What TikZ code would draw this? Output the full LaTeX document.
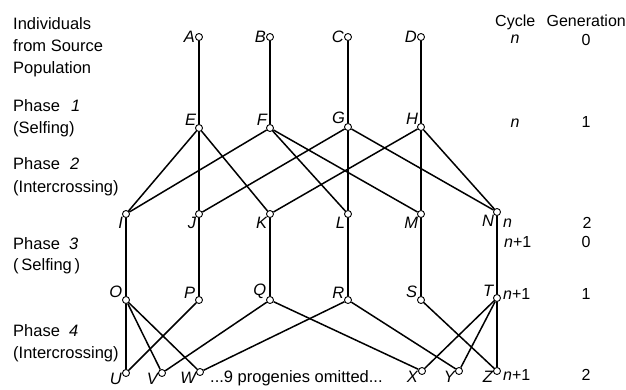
\documentclass[tikz,border=0pt]{standalone}
\usepackage{fontspec}
\setmainfont{Liberation Sans}
\begin{document}
\begin{tikzpicture}[x=1pt,y=-1pt,
  pt/.style={circle,draw,fill=white,inner sep=0pt,minimum size=7pt,line width=0.9pt},
  lbl/.style={font=\fontsize{16.5}{16.5}\selectfont\itshape,inner sep=0pt},
  dotA/.style={pt,label distance=0.5pt,label={[lbl]left:#1}},
  dotE/.style={pt,label distance=1.5pt,label={[lbl]north west:#1}},
  dotI/.style={pt,label distance=1.5pt,label={[lbl]south west:#1}},
  dotO/.style={pt,label distance=1pt,label={[lbl]155:#1}},
  dotU/.style={pt,label distance=2pt,label={[lbl]185:#1}},
  dotX/.style={pt,label distance=7pt,label={[lbl]185:#1}},
  edge/.style={line width=1.5pt},
  side/.style={font=\fontsize{16.5}{16.5}\selectfont,anchor=base west,inner sep=0pt},
  num/.style={font=\fontsize{16.5}{16.5}\selectfont\itshape,anchor=base west,inner sep=0pt},
  col/.style={font=\fontsize{16}{16}\selectfont,anchor=base,inner sep=0pt},
  colw/.style={font=\fontsize{16}{16}\selectfont,anchor=base west,inner sep=0pt}]
\useasboundingbox (0,0) rectangle (626,389);

% generation 0
\node[dotA=A] (A) at (199,37) {};
\node[dotA=B] (B) at (270,37) {};
\node[dotA=C] (C) at (348,37) {};
\node[dotA=D] (D) at (421,37) {};
% phase 1
\node[dotE=E] (E) at (199,128) {};
\node[dotE=F] (F) at (270,128) {};
\node[dotE=G] (G) at (348,127) {};
\node[dotE=H] (H) at (421,127) {};
% phase 2
\node[dotI=I] (I) at (126,214) {};
\node[dotI=J] (J) at (199,214) {};
\node[dotI=K] (K) at (270,214) {};
\node[dotI=L] (L) at (348,214) {};
\node[dotI=M] (M) at (421,214) {};
\node[dotI=N] (N) at (497,212) {};
% phase 3
\node[dotO=O] (O) at (126,300) {};
\node[dotO=P] (P) at (199,300) {};
\node[dotO=Q] (Q) at (270,300) {};
\node[dotO=R] (R) at (348,300) {};
\node[dotO=S] (S) at (421,300) {};
\node[dotO=T] (T) at (497,298) {};
% phase 4
\node[dotU=U] (U) at (126,373) {};
\node[dotU=V] (V) at (162,373) {};
\node[dotU=W] (W) at (200,372) {};
\node[dotX=X] (X) at (422,371) {};
\node[dotX=Y] (Y) at (459,371) {};
\node[dotU=Z] (Z) at (497,371) {};

\foreach \a/\b in {A/E,B/F,C/G,D/H,
  E/I,E/J,E/K,F/I,F/L,F/M,G/J,G/L,G/N,H/K,H/M,H/N,
  I/O,J/P,K/Q,L/R,M/S,N/T,
  O/U,O/V,O/W,P/U,Q/V,Q/X,R/W,R/Y,S/Z,T/X,T/Y,T/Z}
  \draw[edge] (\a) -- (\b);

% left texts
\node[side] (t1) at (13,29) {Individuals};
\node[side] (t2) at (13,51) {from Source};
\node[side] (t3) at (13,73) {Population};
\node[side] (p1) at (13,111) {Phase};
\node[num] (p1n) at (71,111) {1};
\node[side] (p1t) at (13,133) {(Selfing)};
\node[side] (p2) at (13,169) {Phase};
\node[num] (p2n) at (70,169) {2};
\node[side] (p2t) at (13,192) {(Intercrossing)};
\node[side] (p3) at (13,249) {Phase};
\node[num] (p3n) at (69,249) {3};
\node[side] (p3t) at (13,270) {(\,Selfing\,)};
\node[side] (p4) at (13,336) {Phase};
\node[num] (p4n) at (69,336) {4};
\node[side] (p4t) at (13,358) {(Intercrossing)};

% right columns
\node[colw] (cy) at (495,26) {Cycle};
\node[font=\fontsize{16}{16}\selectfont,anchor=base east,inner sep=0pt] (ge) at (626,26) {Generation};
\node[col] (c1) at (515,43) {\itshape n};
\node[col] (g1) at (586,45) {0};
\node[col] (c2) at (515,127) {\itshape n};
\node[col] (g2) at (586,127) {1};
\node[colw] (c3) at (503,227) {\itshape n};
\node[col] (g3) at (587,228) {2};
\node[colw] (c4) at (504,247) {\textit{n}+1};
\node[col] (g4) at (586,247) {0};
\node[colw] (c5) at (503,299) {\textit{n}+1};
\node[col] (g5) at (586,299) {1};
\node[colw] (c6) at (503,380) {\textit{n}+1};
\node[col] (g6) at (586,380) {2};

\node[side] (om) at (210,382) {...9 progenies omitted...};
\end{tikzpicture}
\end{document}
